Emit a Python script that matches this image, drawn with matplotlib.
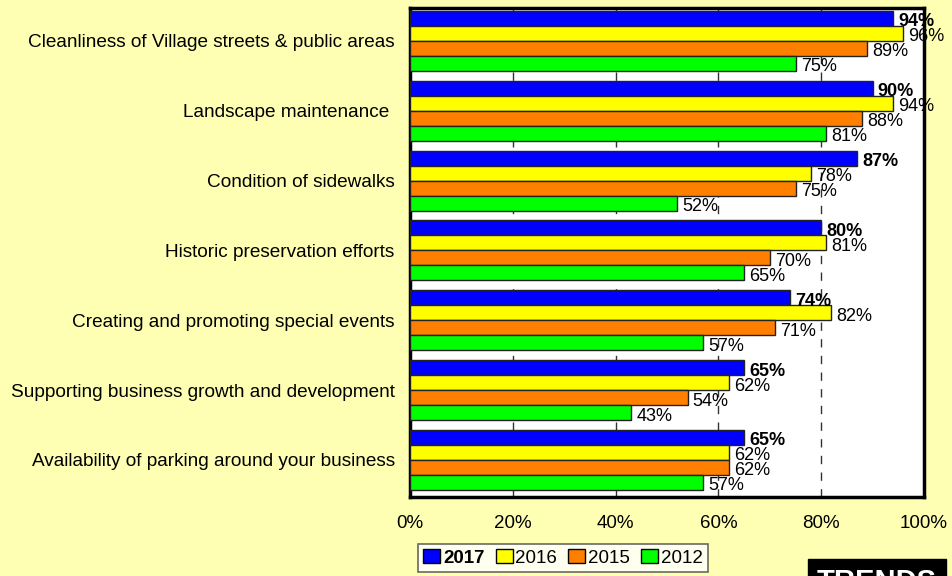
import numpy as np
import matplotlib
matplotlib.use("Agg")
from matplotlib import pyplot as plt
from matplotlib.patches import Patch

plt.rcParams['font.family'] = ['Liberation Sans', 'DejaVu Sans']

categories = [
    "Cleanliness of Village streets & public areas",
    "Landscape maintenance ",
    "Condition of sidewalks",
    "Historic preservation efforts",
    "Creating and promoting special events",
    "Supporting business growth and development",
    "Availability of parking around your business",
]
years = ["2017", "2016", "2015", "2012"]
v2017 = [94, 90, 87, 80, 74, 65, 65]
v2016 = [96, 94, 78, 81, 82, 62, 62]
v2015 = [89, 88, 75, 70, 71, 54, 62]
v2012 = [75, 81, 52, 65, 57, 43, 57]
series = [v2017, v2016, v2015, v2012]
colors = ["#0000ff", "#ffff00", "#ff8000", "#00ff00"]
bg = "#ffffb3"

fig = plt.figure(figsize=(9.52, 5.76), dpi=100, facecolor=bg)
ax = fig.add_axes([410 / 952, 1 - 497 / 576, 514 / 952, 489 / 576])
ax.set_facecolor("white")

y = np.arange(len(categories))
h = 0.215
for k, (vals, col) in enumerate(zip(series, colors)):
    pos = y + (k - 1.5) * h
    ax.barh(pos, vals, height=h, color=col, edgecolor="#222222",
            linewidth=1.0, zorder=3)
    for p, v in zip(pos, vals):
        ax.text(v + 1.0, p + 0.05, f"{v}%", va="center", ha="left",
                fontsize=13, fontweight="bold" if k == 0 else "normal",
                clip_on=False, zorder=4)

ax.set_xlim(0, 100)
ax.set_ylim(len(categories) - 0.47, -0.47)
ax.set_xticks([0, 20, 40, 60, 80, 100])
ax.set_xticklabels([f"{t}%" for t in [0, 20, 40, 60, 80, 100]], fontsize=13.5)
ax.set_yticks(y)
ax.set_yticklabels(categories, fontsize=13.7)
ax.tick_params(axis="both", length=0)
ax.tick_params(axis="x", pad=13)
ax.tick_params(axis="y", pad=11)
for xv in [20, 40, 60, 80]:
    ax.axvline(xv, color="#333333", linestyle=(0, (6, 6)), linewidth=1.0, zorder=1)
for s in ax.spines.values():
    s.set_linewidth(2.5)
    s.set_color("black")

handles = [Patch(facecolor=c, edgecolor="black", linewidth=1) for c in colors]
leg = fig.legend(handles, years, loc="center", bbox_to_anchor=(563 / 952, 1 - 558 / 576),
                 ncol=4, fontsize=13.5, frameon=True, fancybox=False,
                 handlelength=0.9, handleheight=0.7, handletextpad=0.15,
                 columnspacing=0.6, borderpad=0.3, edgecolor="#444444")
leg.get_frame().set_linewidth(1.2)
leg.get_texts()[0].set_fontweight("bold")

fig.text(877 / 952, 1 - 582 / 576, "TRENDS", color="white", fontsize=21,
         fontweight="bold", ha="center", va="center",
         bbox=dict(facecolor="black", edgecolor="black", boxstyle="square,pad=0.3"))

fig.savefig("out.png", dpi=100, facecolor=bg)
